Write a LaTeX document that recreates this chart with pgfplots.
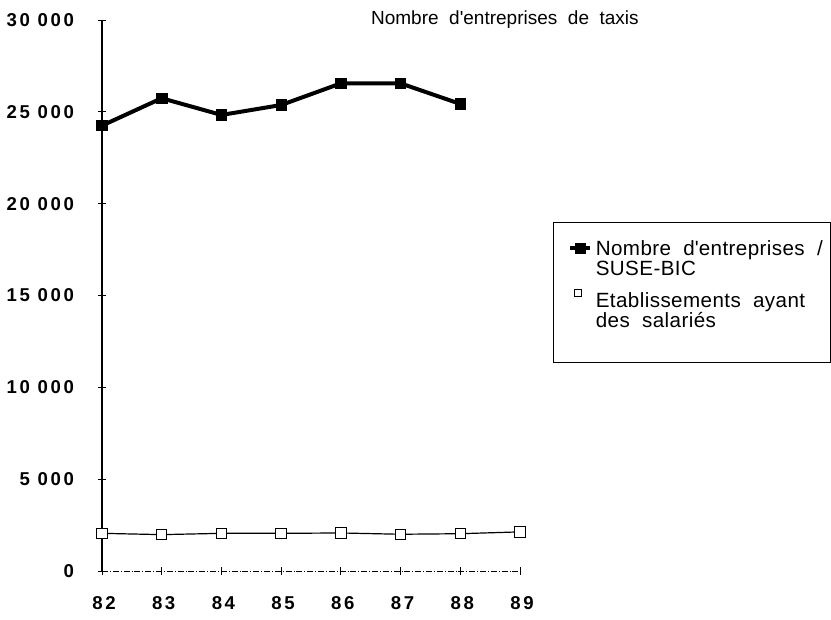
\documentclass[border=0pt]{standalone}
\usepackage{pgfplots}
\pgfplotsset{compat=1.18}
\usepackage{fontspec}
\setmainfont{Liberation Sans}
\newfontfamily\tickfont[LetterSpace=14]{Liberation Sans}
\newfontfamily\legfont[LetterSpace=2]{Liberation Sans}
\begin{document}
\begin{tikzpicture}
\useasboundingbox (-51pt,-24.5pt) rectangle (364.5pt,285.5pt);
\begin{axis}[
  at={(0,0)}, anchor=origin,
  scale only axis,
  width=209pt, height=275.5pt,
  xmin=82, xmax=89, ymin=0, ymax=30000,
  axis x line=bottom, axis y line=left,
  axis line style={-},
  x axis line style={densely dashdotted, line width=0.4pt},
  y axis line style={line width=0.9pt},
  xtick={82,...,89},
  ytick={0,5000,...,30000},
  scaled y ticks=false,
  tick align=center,
  major tick length=4pt,
  tick style={black, line width=0.4pt},
  /pgf/number format/assume math mode=true,
  yticklabel style={font=\tickfont\bfseries\fontsize{9.3}{10}\selectfont, xshift=-8.5pt,
    /pgf/number format/.cd, fixed, precision=0, 1000 sep={\ }},
  xticklabel style={font=\tickfont\bfseries\fontsize{9.3}{10}\selectfont, yshift=-7pt, xshift=1pt,
    /pgf/number format/.cd, fixed, precision=0, 1000 sep={}},
  clip=false,
  legend style={
    at={(rel axis cs:1.115,0.608)}, anchor=north west,
    draw=none, fill=none,
    font=\legfont\fontsize{10.3}{10}\selectfont,
    cells={align=left, anchor=west},
    row sep=3pt,
    inner sep=0pt,
  },
]
\addplot[black, line width=2pt, mark=square*, mark size=2.6pt, mark options={solid, line width=0.4pt},
  legend image code/.code={
    \draw[mark repeat=2,mark phase=2, yshift=5.5pt, xshift=-3pt] plot coordinates {(0cm,0cm) (0.17cm,0cm) (0.34cm,0cm)};
  }]
  coordinates {(82,24250) (83,25740) (84,24830) (85,25370) (86,26550) (87,26550) (88,25430)};
\addlegendentry{Nombre \ d\textquotesingle entreprises \ /\\SUSE-BIC}
\addplot[black, line width=0.6pt, mark=square*, mark size=2.6pt, mark options={fill=white, line width=0.5pt},
  legend image code/.code={
    \draw[mark size=1.8pt, mark options={fill=white, line width=0.4pt}, yshift=9pt, xshift=-4pt] plot coordinates {(0.17cm,0cm)};
  }]
  coordinates {(82,2050) (83,1980) (84,2050) (85,2050) (86,2070) (87,2000) (88,2030) (89,2130)};
\addlegendentry{Etablissements \ ayant\\des \ salariés}
\draw[line width=0.4pt] (rel axis cs:1.079,0.633) rectangle (rel axis cs:1.742,0.379);
\node[font=\fontsize{9.5}{10}\selectfont, anchor=center] at (rel axis cs:0.964,1) {Nombre \ d\textquotesingle entreprises \ de \ taxis};
\end{axis}
\end{tikzpicture}
\end{document}
